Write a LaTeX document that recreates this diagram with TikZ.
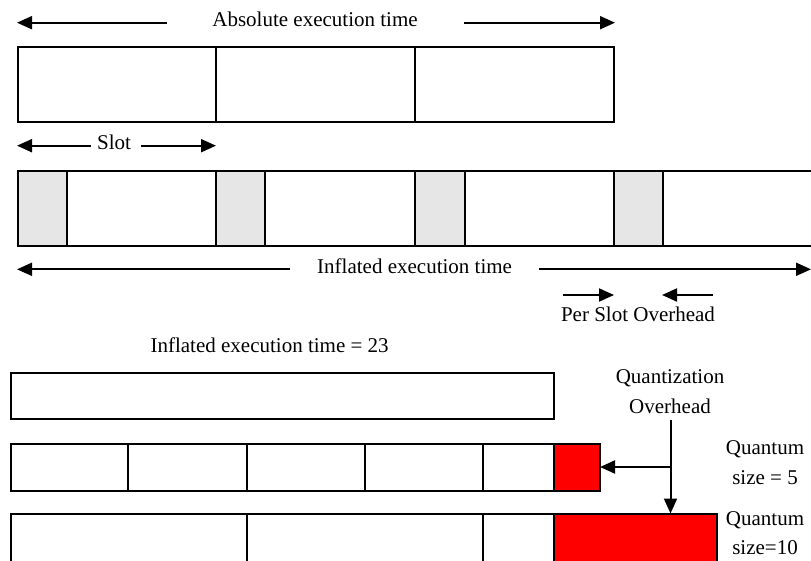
\documentclass[tikz,border=0pt]{standalone}
\usepackage{fontspec}
\setmainfont{Liberation Serif}
\usetikzlibrary{arrows.meta}
\definecolor{ovh}{HTML}{E6E6E6}
\definecolor{quant}{HTML}{FF0000}
\begin{document}
\begin{tikzpicture}[x=1pt,y=-1pt,
  cell/.style={draw=black,line width=2pt},
  arr/.style={-{Triangle[length=15pt,width=13pt]},line width=2pt},
  lbl/.style={font=\fontsize{21}{25}\selectfont,inner sep=0pt,anchor=base}]
\useasboundingbox (0,0) rectangle (811,561);
\clip (0,0) rectangle (811,561);

% ---- absolute execution time ----
\node[lbl] (abs) at (315,26.5) {Absolute execution time};
\coordinate (absL) at (167,22.7); \coordinate (absLt) at (17,22.7);
\coordinate (absR) at (464,22.7); \coordinate (absRt) at (615,22.7);
\draw[arr] (absL) -- (absLt);
\draw[arr] (absR) -- (absRt);

\draw[cell] (17.6,47.3) rectangle (613.5,122);
\draw[cell] (216,47.3) -- (216,122);
\draw[cell] (415,47.3) -- (415,122);

% ---- slot ----
\node[lbl] (slot) at (114,150) {Slot};
\coordinate (slL) at (90.5,145.7); \coordinate (slLt) at (17,145.7);
\coordinate (slR) at (141,145.7); \coordinate (slRt) at (216,145.7);
\draw[arr] (slL) -- (slLt);
\draw[arr] (slR) -- (slRt);

% ---- inflated bar with per-slot overhead ----
\foreach \x in {17.6,216,415,613.5}
  \fill[ovh] (\x,170.7) rectangle ++(49,75);
\draw[cell] (17.6,170.7) rectangle (830,245.7);
\foreach \x in {67,216,265,415,464.6,613.5,662.5}
  \draw[cell] (\x,170.7) -- (\x,245.7);

\node[lbl] (infl) at (414.6,273.5) {Inflated execution time};
\coordinate (inL) at (290,269.3); \coordinate (inLt) at (17,269.3);
\coordinate (inR) at (539,269.3); \coordinate (inRt) at (811,269.3);
\draw[arr] (inL) -- (inLt);
\draw[arr] (inR) -- (inRt);

\coordinate (psA) at (563,295); \coordinate (psAt) at (614,295);
\coordinate (psB) at (713,295); \coordinate (psBt) at (662,295);
\draw[arr] (psA) -- (psAt);
\draw[arr] (psB) -- (psBt);
\node[lbl] (pso) at (638,321.5) {Per Slot Overhead};

% ---- quantization ----
\node[lbl] (q23) at (269.6,352.7) {Inflated execution time = 23};
\draw[cell] (11.4,373.3) rectangle (553.5,419.3);

% quantum size 5
\fill[quant] (553.5,444.3) rectangle (600,491);
\draw[cell] (11.4,444.3) rectangle (600,491);
\foreach \x in {128.3,246.8,364.7,482.7,553.5}
  \draw[cell] (\x,444.3) -- (\x,491);

% quantum size 10
\fill[quant] (553.5,513.5) rectangle (717,570);
\draw[cell] (11.4,513.5) rectangle (717,570);
\foreach \x in {246.8,482.7,553.5}
  \draw[cell] (\x,513.5) -- (\x,570);

\node[lbl] (qz1) at (670,383) {Quantization};
\node[lbl] (qz2) at (670,413.5) {Overhead};
\coordinate (qtop) at (670.5,420);
\coordinate (qmid) at (670.5,467);
\coordinate (qdown) at (670.5,513.5);
\coordinate (qleft) at (600,467);
\draw[line width=2pt] (qtop) -- (qmid);
\draw[arr] (qmid) -- (qdown);
\draw[arr] (qmid) -- (qleft);

\node[lbl] (qs5a) at (765,454) {Quantum};
\node[lbl] (qs5b) at (765,484) {size = 5};
\node[lbl] (qs10a) at (765,525) {Quantum};
\node[lbl] (qs10b) at (765,554) {size=10};
\end{tikzpicture}
\end{document}
